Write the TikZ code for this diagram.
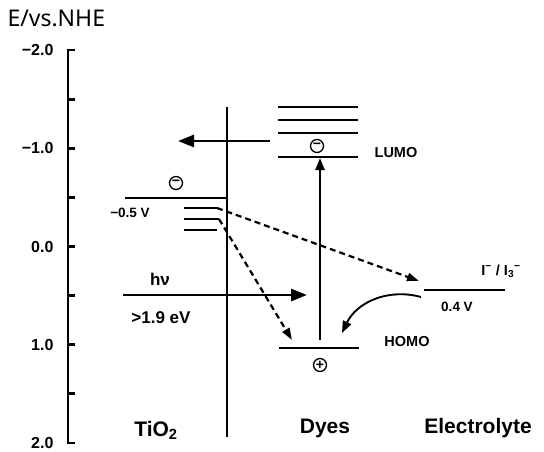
\documentclass[tikz,border=0pt]{standalone}
\usepackage{fontspec}
\setmainfont{Liberation Sans}
\newfontfamily\titlefont{Noto Sans}
\usetikzlibrary{arrows.meta}

\begin{document}
\begin{tikzpicture}[
  x=1pt, y=-1pt,
  axis/.style={line width=2.8pt},
  level/.style={line width=2.4pt},
  trap/.style={line width=1.9pt},
  tick/.style={font=\bfseries\fontsize{16}{16}\selectfont, anchor=east},
  lab/.style={font=\bfseries\fontsize{14.5}{15}\selectfont},
  big/.style={font=\bfseries\fontsize{21}{21}\selectfont},
  charge/.style={draw, circle, line width=1.3pt, inner sep=0pt,
                 minimum size=13pt, font=\bfseries\fontsize{14}{14}\selectfont},
  arr/.style={-{Triangle[length=12pt, width=9pt]}, line width=2.3pt},
  big arr/.style={-{Triangle[length=16pt, width=12pt]}, line width=2.8pt},
  dash arr/.style={-{Triangle[length=12pt, width=8pt]}, line width=2.2pt,
                   dash pattern=on 6pt off 4pt}
]
  \useasboundingbox (0,0) rectangle (544,451);

  % energy axis
  \draw[axis] (75,50) -- (68,50) -- (68,443) -- (75,443);
  \foreach \k in {1,...,7}
    \draw[axis] (68,50+49.125*\k) -- ++(7,0);
  \foreach \k/\v in {0/−2.0, 2/−1.0, 4/0.0, 6/1.0, 8/2.0}
    \node[tick] (t\k) at (57,50+49.125*\k) {\v};
  \node[anchor=west, font=\titlefont\fontsize{23}{23}\selectfont]
    (unit) at (4,18) {E/vs.NHE};

  % TiO2
  \coordinate (ti top) at (227,107);
  \coordinate (ti bot) at (227,437);
  \draw[level] (ti top) -- (ti bot);
  \coordinate (cb w) at (125,198);
  \coordinate (cb e) at (227,198);
  \draw[level] (cb w) -- (cb e);
  \node[charge] (e1) at (176,183) {−};
  \node[lab, font=\bfseries\fontsize{13.5}{14}\selectfont] (cbv) at (130,213) {−0.5 V};
  \coordinate (tr1 e) at (217,208);
  \coordinate (tr2 e) at (219,219);
  \coordinate (tr3 e) at (217,230);
  \draw[trap] (184,208) -- (tr1 e);
  \draw[trap] (184,219) -- (tr2 e);
  \draw[trap] (184,230) -- (tr3 e);

  % dye levels
  \foreach \y in {107, 120, 133}
    \draw[level] (278,\y) -- (358,\y);
  \coordinate (lumo w) at (278,157);
  \coordinate (lumo e) at (358,157);
  \draw[level] (lumo w) -- (lumo e);
  \node[charge] (e2) at (317,146) {−};
  \node[lab] (lumo) at (396,153) {LUMO};
  \coordinate (ho w) at (279,348);
  \coordinate (ho e) at (359,348);
  \draw[level] (ho w) -- (ho e);
  \node[charge] (h1) at (320,365) {+};
  \node[lab] (homo) at (407,342) {HOMO};

  % electrolyte
  \coordinate (el w) at (424,290);
  \coordinate (el e) at (505,290);
  \draw[level] (el w) -- (el e);
  \node[lab, font=\bfseries\fontsize{13.5}{14}\selectfont] (elv) at (457,307) {0.4 V};
  \node[lab] (redox) at (501,271) {I\textsuperscript{−} / I\textsubscript{3}\textsuperscript{−}};

  % transfers
  \coordinate (inj a) at (270,141);
  \coordinate (inj b) at (178,141);
  \draw[big arr] (inj a) -- (inj b);
  \coordinate (exc a) at (320,340);
  \coordinate (exc b) at (320,158);
  \draw[arr] (exc a) -- (exc b);
  \coordinate (hv a) at (123,295);
  \coordinate (hv b) at (307,295);
  \draw[big arr] (hv a) -- (hv b);
  \node[lab, font=\bfseries\fontsize{17}{17}\selectfont] (hv) at (160,279) {hν};
  \node[lab, font=\bfseries\fontsize{17}{17}\selectfont] (gap) at (161,318) {>1.9 eV};
  \coordinate (rec1) at (419,281);
  \coordinate (rec2) at (292,340);
  \draw[dash arr] (tr1 e) -- (rec1);
  \draw[dash arr] (tr2 e) -- (rec2);
  \coordinate (reg a) at (421,297);
  \coordinate (reg b) at (342,333);
  \draw[arr, line width=1.9pt] (reg a) to[bend right=40] (reg b);

  \node[big] (tio2) at (156,430) {TiO\textsubscript{2}};
  \node[big] (dyes) at (325,428) {Dyes};
  \node[big] (elyte) at (478,428) {Electrolyte};
\end{tikzpicture}
\end{document}
